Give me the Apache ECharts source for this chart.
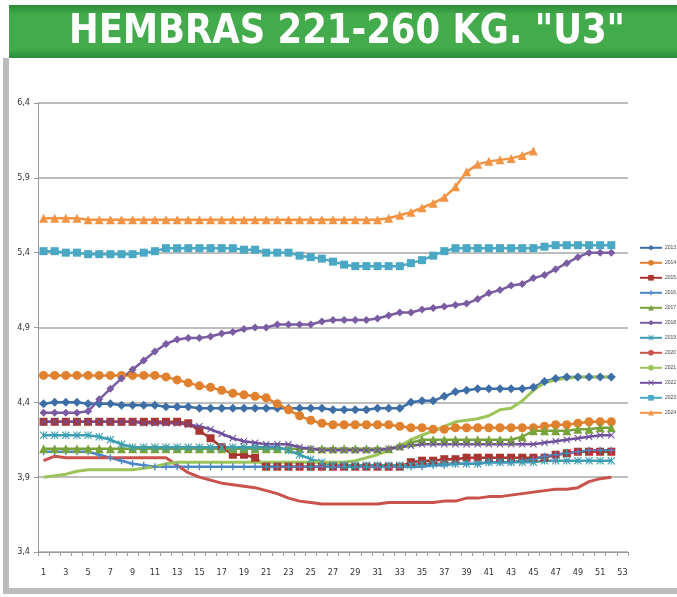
<!DOCTYPE html>
<html>
<head>
<meta charset="utf-8">
<title>HEMBRAS 221-260 KG. "U3"</title>
<script src="https://cdn.jsdelivr.net/npm/echarts@6/dist/echarts.min.js"></script>
<style>
  html, body { margin: 0; padding: 0; background: #fff; }
  #chart { width: 677px; height: 597px; }
</style>
</head>
<body>
<div id="chart"></div>
<script>
// semanas (eje X)
var weeks = ['1','2','3','4','5','6','7','8','9','10','11','12','13','14','15','16','17','18','19','20',
  '21','22','23','24','25','26','27','28','29','30','31','32','33','34','35','36','37','38','39','40',
  '41','42','43','44','45','46','47','48','49','50','51','52','53']

// eje Y
var yMin = 3.4
var yMax = 6.4
var yStep = 0.5

var years = ['2013','2014','2015','2016','2017','2018','2019','2020','2021','2022','2023','2024']

var s2013 = [4.39,4.40,4.40,4.40,4.39,4.39,4.39,4.38,4.38,4.38, 4.38,4.37,4.37,4.37,4.36,4.36,4.36,4.36,4.36,4.36,
  4.36,4.36,4.36,4.36,4.36,4.36,4.35,4.35,4.35,4.35, 4.36,4.36,4.36,4.40,4.41,4.41,4.44,4.47,4.48,4.49,
  4.49,4.49,4.49,4.49,4.50,4.54,4.56,4.57,4.57,4.57, 4.57,4.57]
var s2014 = [4.58,4.58,4.58,4.58,4.58,4.58,4.58,4.58,4.58,4.58, 4.58,4.57,4.55,4.53,4.51,4.50,4.48,4.46,4.45,4.44,
  4.43,4.39,4.35,4.31,4.28,4.26,4.25,4.25,4.25,4.25, 4.25,4.25,4.24,4.23,4.23,4.22,4.22,4.23,4.23,4.23,
  4.23,4.23,4.23,4.23,4.23,4.24,4.25,4.25,4.26,4.27, 4.27,4.27]
var s2015 = [4.27,4.27,4.27,4.27,4.27,4.27,4.27,4.27,4.27,4.27, 4.27,4.27,4.27,4.26,4.21,4.16,4.10,4.05,4.05,4.03,
  3.97,3.97,3.97,3.97,3.97,3.97,3.97,3.97,3.97,3.97, 3.97,3.97,3.97,4.00,4.01,4.01,4.02,4.02,4.03,4.03,
  4.03,4.03,4.03,4.03,4.03,4.03,4.05,4.06,4.07,4.07, 4.07,4.07]
var s2016 = [4.07,4.07,4.07,4.07,4.07,4.05,4.03,4.01,3.99,3.98, 3.97,3.97,3.97,3.97,3.97,3.97,3.97,3.97,3.97,3.97,
  3.97,3.97,3.97,3.97,3.97,3.97,3.97,3.97,3.97,3.97, 3.97,3.97,3.97,3.97,3.97,3.98,3.98,3.99,3.99,3.99,
  4.00,4.00,4.00,4.01,4.02,4.04,4.05,4.06,4.07,4.08, 4.08,4.08]
var s2017 = [4.09,4.09,4.09,4.09,4.09,4.09,4.09,4.09,4.09,4.09, 4.09,4.09,4.09,4.09,4.09,4.09,4.09,4.09,4.09,4.09,
  4.09,4.09,4.09,4.09,4.09,4.09,4.09,4.09,4.09,4.09, 4.09,4.09,4.11,4.13,4.15,4.15,4.15,4.15,4.15,4.15,
  4.15,4.15,4.15,4.17,4.21,4.21,4.21,4.21,4.22,4.22, 4.23,4.23]
var s2018 = [4.33,4.33,4.33,4.33,4.34,4.42,4.49,4.56,4.62,4.68, 4.74,4.79,4.82,4.83,4.83,4.84,4.86,4.87,4.89,4.90,
  4.90,4.92,4.92,4.92,4.92,4.94,4.95,4.95,4.95,4.95, 4.96,4.98,5.00,5.00,5.02,5.03,5.04,5.05,5.06,5.09,
  5.13,5.15,5.18,5.19,5.23,5.25,5.29,5.33,5.37,5.40, 5.40,5.40]
var s2019 = [4.18,4.18,4.18,4.18,4.18,4.17,4.15,4.12,4.10,4.10, 4.10,4.10,4.10,4.10,4.10,4.10,4.10,4.10,4.10,4.10,
  4.10,4.10,4.08,4.05,4.02,4.00,3.98,3.98,3.98,3.98, 3.98,3.98,3.98,3.98,3.99,3.99,3.99,3.99,3.99,3.99,
  4.00,4.00,4.00,4.00,4.00,4.01,4.01,4.01,4.01,4.01, 4.01,4.01]
var s2020 = [4.01,4.04,4.03,4.03,4.03,4.03,4.03,4.03,4.03,4.03, 4.03,4.03,3.98,3.93,3.90,3.88,3.86,3.85,3.84,3.83,
  3.81,3.79,3.76,3.74,3.73,3.72,3.72,3.72,3.72,3.72, 3.72,3.73,3.73,3.73,3.73,3.73,3.74,3.74,3.76,3.76,
  3.77,3.77,3.78,3.79,3.80,3.81,3.82,3.82,3.83,3.87, 3.89,3.90]
var s2021 = [3.90,3.91,3.92,3.94,3.95,3.95,3.95,3.95,3.95,3.96, 3.97,3.99,4.00,4.00,4.00,4.00,4.00,4.00,4.00,4.00,
  4.00,4.00,4.00,4.00,4.00,4.00,4.00,4.00,4.01,4.03, 4.05,4.08,4.11,4.15,4.18,4.21,4.24,4.27,4.28,4.29,
  4.31,4.35,4.36,4.41,4.48,4.53,4.55,4.56,4.57,4.57, 4.57,4.57]
var s2022 = [4.27,4.27,4.27,4.27,4.27,4.27,4.27,4.27,4.27,4.26, 4.26,4.26,4.26,4.25,4.24,4.22,4.19,4.16,4.14,4.13,
  4.12,4.12,4.12,4.10,4.09,4.08,4.08,4.08,4.08,4.08, 4.08,4.09,4.10,4.11,4.12,4.12,4.12,4.12,4.12,4.12,
  4.12,4.12,4.12,4.12,4.12,4.13,4.14,4.15,4.16,4.17, 4.18,4.18]
var s2023 = [5.41,5.41,5.40,5.40,5.39,5.39,5.39,5.39,5.39,5.40, 5.41,5.43,5.43,5.43,5.43,5.43,5.43,5.43,5.42,5.42,
  5.40,5.40,5.40,5.38,5.37,5.36,5.34,5.32,5.31,5.31, 5.31,5.31,5.31,5.33,5.35,5.38,5.41,5.43,5.43,5.43,
  5.43,5.43,5.43,5.43,5.43,5.44,5.45,5.45,5.45,5.45, 5.45,5.45]
var s2024 = [5.63,5.63,5.63,5.63,5.62,5.62,5.62,5.62,5.62,5.62, 5.62,5.62,5.62,5.62,5.62,5.62,5.62,5.62,5.62,5.62,
  5.62,5.62,5.62,5.62,5.62,5.62,5.62,5.62,5.62,5.62, 5.62,5.63,5.65,5.67,5.70,5.73,5.77,5.84,5.94,5.99,
  6.01,6.02,6.03,6.05,6.08]

var values = [s2013, s2014, s2015, s2016, s2017, s2018, s2019, s2020, s2021, s2022, s2023, s2024]

// marcadores tipo Excel
var PLUS = 'path://M4,0 L6,0 L6,4 L10,4 L10,6 L6,6 L6,10 L4,10 L4,6 L0,6 L0,4 L4,4 Z'
var CROSS = 'path://M1,0 L5,4 L9,0 L10,1 L6,5 L10,9 L9,10 L5,6 L1,10 L0,9 L4,5 L0,1 Z'
var STAR = 'path://M1,0 L5,4 L9,0 L10,1 L6,5 L10,9 L9,10 L5,6 L1,10 L0,9 L4,5 L0,1 Z M4.4,0 L5.6,0 L5.6,10 L4.4,10 Z'

var looks = [
  { color: '#3d6ea6', symbol: 'diamond', size: 9 },
  { color: '#e0812f', symbol: 'circle', size: 9 },
  { color: '#a8352f', symbol: 'rect', size: 8 },
  { color: '#4a86c8', symbol: PLUS, size: 7 },
  { color: '#77a33a', symbol: 'triangle', size: 9 },
  { color: '#7a5ca2', symbol: 'diamond', size: 8 },
  { color: '#3c9eb2', symbol: STAR, size: 8 },
  { color: '#c9534c', symbol: 'none', size: 0 },
  { color: '#9cc45a', symbol: 'none', size: 0 },
  { color: '#6f4f9e', symbol: CROSS, size: 7 },
  { color: '#4aa8c4', symbol: 'rect', size: 8 },
  { color: '#f39444', symbol: 'triangle', size: 9 }
]

var series = years.map(function(name, i) {
  return {
    name: name,
    type: 'line',
    data: values[i],
    symbol: looks[i].symbol,
    symbolSize: looks[i].size,
    showSymbol: looks[i].symbol !== 'none',
    showAllSymbol: true,
    lineStyle: { color: looks[i].color, width: looks[i].symbol === 'none' ? 3 : 2.5 },
    itemStyle: { color: looks[i].color },
    emphasis: { disabled: true },
    animation: false
  }
})

var title = 'HEMBRAS 221-260 KG. "U3"'
var titleFont = 'bold 40px "DejaVu Sans Condensed", "DejaVu Sans", sans-serif'
var ctx = document.createElement('canvas').getContext('2d')
ctx.font = titleFont
var titleScale = 556 / ctx.measureText(title).width

var chart = echarts.init(document.getElementById('chart'), null, { renderer: 'canvas' })
chart.setOption({
  backgroundColor: '#fff',
  animation: false,
  graphic: [
    // marco gris
    { type: 'rect', shape: { x: 3, y: 58, width: 6, height: 536 }, style: { fill: '#bcbcbc' } },
    { type: 'rect', shape: { x: 3, y: 588, width: 674, height: 6 }, style: { fill: '#bcbcbc' } },
    // banda verde del titulo
    {
      type: 'rect',
      shape: { x: 9, y: 5, width: 668, height: 53 },
      style: {
        fill: new echarts.graphic.LinearGradient(0, 0, 0, 1, [
          { offset: 0, color: '#2b8b37' },
          { offset: 0.18, color: '#43ab4b' },
          { offset: 0.82, color: '#43ab4b' },
          { offset: 1, color: '#2b8b37' }
        ])
      }
    },
    {
      type: 'text',
      x: 347,
      y: 33,
      scaleX: titleScale,
      style: {
        text: title,
        font: titleFont,
        fill: '#fff',
        align: 'center',
        verticalAlign: 'middle'
      }
    }
  ],
  legend: {
    orient: 'vertical',
    left: 634,
    top: 240,
    itemWidth: 22,
    itemHeight: 7,
    itemGap: 9.4,
    selectedMode: false,
    data: years,
    textStyle: { fontSize: 5, color: '#444', padding: [0, 0, 0, -2] }
  },
  grid: {
    left: 38,
    right: 49,
    top: 103,
    bottom: 45
  },
  xAxis: {
    type: 'category',
    data: weeks,
    boundaryGap: true,
    axisLine: { lineStyle: { color: '#9a9a9a', width: 1 } },
    axisTick: { show: true, interval: 0, length: 4, lineStyle: { color: '#9a9a9a' } },
    axisLabel: {
      interval: 1,
      margin: 16,
      fontSize: 9,
      color: '#333',
      fontFamily: '"Liberation Sans Narrow", "DejaVu Sans Condensed", sans-serif'
    },
    splitLine: { show: false }
  },
  yAxis: {
    type: 'value',
    min: yMin,
    max: yMax,
    interval: yStep,
    axisLine: { show: true, lineStyle: { color: '#9a9a9a', width: 1 } },
    axisTick: { show: true, length: 4, lineStyle: { color: '#9a9a9a' } },
    axisLabel: {
      fontSize: 9,
      color: '#333',
      margin: 8,
      fontFamily: '"Liberation Sans Narrow", "DejaVu Sans Condensed", sans-serif',
      formatter: function(v) { return v.toFixed(1).replace('.', ',') }
    },
    splitLine: { lineStyle: { color: '#a8a8a8', width: 1.5 } }
  },
  series: series
})
</script>
</body>
</html>
